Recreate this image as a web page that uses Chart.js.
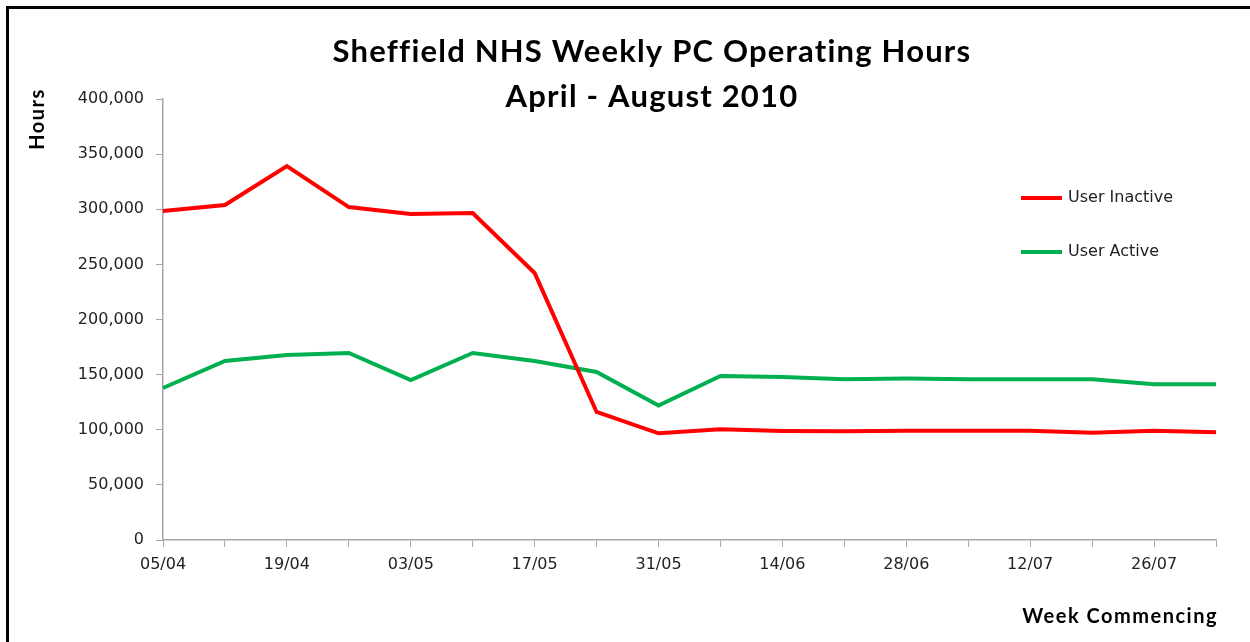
<!DOCTYPE html>
<html lang="en">
<head>
<meta charset="UTF-8">
<title>Sheffield NHS Weekly PC Operating Hours</title>
<style>
  body {
    margin: 0;
    background-color: #fff;
  }
  .wrap {
    position: relative;
    width: 1250px;
    height: 642px;
    overflow: hidden;
  }
  .frame {
    position: absolute;
    left: 6px;
    top: 6px;
    width: 1300px;
    height: 700px;
    border: 3px solid #000;
  }
  .wrap canvas {
    position: absolute;
    left: 0;
    top: 0;
  }
</style>
<script src="https://cdn.jsdelivr.net/npm/chart.js"></script>
</head>
<body>
  <div class="wrap">
    <div class="frame"></div>
    <canvas id="hoursChart" width="1250" height="642"></canvas>
  </div>

  <script>
    const weeks = ['05/04', '12/04', '19/04', '26/04', '03/05', '10/05', '17/05', '24/05', '31/05',
                   '07/06', '14/06', '21/06', '28/06', '05/07', '12/07', '19/07', '26/07', '02/08'];
    const userInactive = [298400, 303800, 339200, 302000, 295700, 296600, 242200, 116100, 96800,
                          100400, 98900, 98600, 99100, 99100, 99100, 97200, 99100, 97700];
    const userActive = [137900, 162400, 167800, 169600, 145100, 169600, 162400, 152400, 122000,
                        148800, 147800, 145800, 146400, 145800, 145800, 145800, 141200, 141200];
    const titleLines = ['Sheffield NHS Weekly PC Operating Hours', 'April - August 2010'];
    const yTitle = 'Hours';
    const xTitle = 'Week Commencing';

    const tickFont = { family: 'DejaVu Sans', size: 16 };
    const axisGrey = '#a6a6a6';

    // title, axis titles and the legend sit where Excel put them, so draw them by hand
    const overlayText = {
      id: 'overlayText',
      afterDraw(chart) {
        const ctx = chart.ctx;
        ctx.save();
        ctx.fillStyle = '#000';
        ctx.textAlign = 'center';
        ctx.textBaseline = 'middle';
        ctx.font = 'bold 31px Lato';
        ctx.letterSpacing = '1.2px';
        ctx.fillText(titleLines[0], 652, 52);
        ctx.fillText(titleLines[1], 652, 97);

        ctx.font = 'bold 20px Lato';
        ctx.letterSpacing = '1.5px';
        ctx.save();
        ctx.translate(38, 119);
        ctx.rotate(-Math.PI / 2);
        ctx.fillText(yTitle, 0, 0);
        ctx.restore();

        ctx.textAlign = 'right';
        ctx.fillText(xTitle, 1218, 617);

        // legend
        ctx.font = '16px DejaVu Sans';
        ctx.letterSpacing = '0px';
        ctx.textAlign = 'left';
        chart.data.datasets.forEach((ds, i) => {
          const y = 198 + i * 54;
          ctx.strokeStyle = ds.borderColor;
          ctx.lineWidth = 4;
          ctx.beginPath();
          ctx.moveTo(1021, y);
          ctx.lineTo(1062, y);
          ctx.stroke();
          ctx.fillStyle = '#222';
          ctx.fillText(ds.label, 1068, y);
        });
        ctx.restore();
      }
    };

    const ctx = document.getElementById('hoursChart').getContext('2d');
    const hoursChart = new Chart(ctx, {
      type: 'line',
      data: {
        labels: weeks,
        datasets: [
          {
            label: 'User Inactive',
            data: userInactive,
            borderColor: '#ff0000',
            borderWidth: 4,
            pointRadius: 0,
            tension: 0,
            fill: false
          },
          {
            label: 'User Active',
            data: userActive,
            borderColor: '#00b050',
            borderWidth: 4,
            pointRadius: 0,
            tension: 0,
            fill: false
          }
        ]
      },
      options: {
        responsive: false,
        animation: false,
        layout: {
          padding: { top: 99, right: 34, left: 0, bottom: 0 }
        },
        plugins: {
          legend: { display: false },
          tooltip: { enabled: false }
        },
        scales: {
          x: {
            offset: false,
            grid: {
              display: true,
              drawOnChartArea: false,
              drawTicks: true,
              tickLength: 7,
              color: axisGrey
            },
            border: { color: axisGrey, width: 1.5 },
            ticks: {
              autoSkip: false,
              maxRotation: 0,
              padding: 8,
              color: '#222',
              font: tickFont,
              callback: function (value, index) {
                return index % 2 === 0 ? this.getLabelForValue(value) : '';
              }
            },
            afterFit: scale => { scale.height = 102; }
          },
          y: {
            min: 0,
            max: 400000,
            grid: {
              display: true,
              drawOnChartArea: false,
              drawTicks: true,
              tickLength: 7,
              color: axisGrey
            },
            border: { color: axisGrey, width: 1.5 },
            ticks: {
              stepSize: 50000,
              padding: 12,
              color: '#222',
              font: tickFont,
              callback: value => value.toLocaleString('en-GB')
            },
            afterFit: scale => { scale.width = 163; }
          }
        }
      },
      plugins: [overlayText]
    });
  </script>
</body>
</html>
